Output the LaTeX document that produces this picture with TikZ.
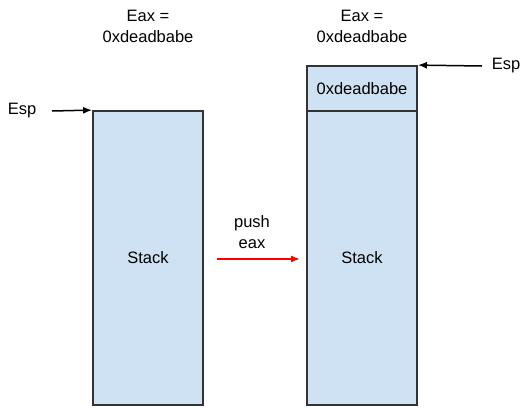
\documentclass[tikz,border=0pt]{standalone}
\usepackage{fontspec}
\setmainfont{Liberation Sans}
\usetikzlibrary{arrows.meta}
\definecolor{stackblue}{HTML}{CFE2F3}
\definecolor{edgegray}{HTML}{333333}
\begin{document}
\begin{tikzpicture}[x=1pt,y=-1pt,
font=\fontsize{16.5}{21}\selectfont,
cell/.style={
% the stack boxes:
rectangle,
draw=edgegray,
fill=stackblue,
line width=1.8pt,
minimum width=110pt,
inner sep=0pt
},
label/.style={
align=center,
inner sep=0pt
},
ptr/.style={-{Latex[length=9pt,width=7pt]},line width=1.5pt}
]
\useasboundingbox (0,0) rectangle (522,407);
% Before:
\node (lstack) [cell,minimum height=294pt] at (148,258) {Stack};
\node (leax) [label] at (148,26) {Eax =\\0xdeadbabe};
\node (lesp) [label] at (22,111) {Esp};
\coordinate (lesptail) at (52,111);
\draw [ptr] (lesptail) -- (lstack.north west);
% After:
\node (rtop) [cell,minimum height=45pt] at (362,88.5) {0xdeadbabe};
\node (rstack) [cell,minimum height=294pt] at (362,258) {Stack};
\node (reax) [label] at (362,26) {Eax =\\0xdeadbabe};
\node (resp) [label] at (506,66) {Esp};
\coordinate (resptail) at (482,66);
\draw [ptr] (resptail) -- (rtop.north east);
% Push:
\coordinate (pushtail) at (217,259);
\coordinate (pushhead) at (300,259);
\draw [ptr,red] (pushtail) -- (pushhead);
\node (push) [label] at (252,232) {push\\eax};
\end{tikzpicture}
\end{document}
